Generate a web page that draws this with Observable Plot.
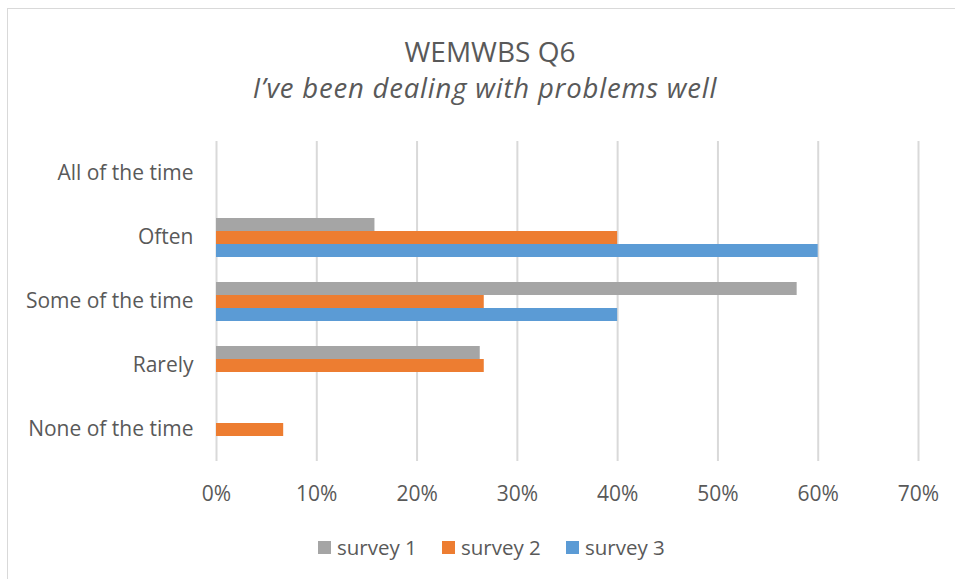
<!DOCTYPE html>
<html>
<head>
<meta charset="utf-8">
<script src="https://cdn.jsdelivr.net/npm/d3@7"></script>
<script src="https://cdn.jsdelivr.net/npm/@observablehq/plot@0.6"></script>
<style>
  html, body { margin: 0; padding: 0; background: #fff; overflow: hidden; }
  body { width: 955px; height: 579px; position: relative; font-family: "Open Sans", sans-serif; color: #595959; }
  #frame { position: absolute; left: 7px; top: 8px; width: 1000px; height: 620px; border-left: 1.5px solid #d9d9d9; border-top: 1.5px solid #d9d9d9; }
  #title { position: absolute; left: 0; width: 980px; top: 35px; text-align: center; font-size: 28px; line-height: 32px; }
  #subtitle { position: absolute; left: 0; width: 970px; top: 72px; text-align: center; font-size: 27.5px; letter-spacing: 0.8px; line-height: 32px; font-style: italic; }
  #chart { position: absolute; left: 0; top: 130px; }
  #legend { position: absolute; left: 318px; top: 535px; display: flex; font-size: 20.5px; line-height: 24px; }
  .item { display: flex; align-items: center; width: 124px; }
  .sw { width: 13px; height: 13px; margin-right: 6px; }
</style>
</head>
<body>
<div id="frame"></div>
<div id="title">WEMWBS Q6</div>
<div id="subtitle">I’ve been dealing with problems well</div>
<div id="chart"></div>
<div id="legend"></div>
<script>
const categories = ["All of the time", "Often", "Some of the time", "Rarely", "None of the time"];
const series = ["survey 1", "survey 2", "survey 3"];
const survey1 = [0, 0.158, 0.579, 0.263, 0];
const survey2 = [0, 0.40, 0.267, 0.267, 0.067];
const survey3 = [0, 0.60, 0.40, 0, 0];
const xTicks = [0, 0.1, 0.2, 0.3, 0.4, 0.5, 0.6, 0.7];
const colors = ["#a5a5a5", "#ed7d31", "#5b9bd5"];

const values = [survey1, survey2, survey3];
const data = [];
categories.forEach((c, i) => {
  series.forEach((s, j) => {
    if (values[j][i] > 0) data.push({category: c, series: s, value: values[j][i]});
  });
});
const grid = [];
categories.forEach(c => xTicks.forEach(t => grid.push({category: c, x: t})));

const chart = Plot.plot({
  width: 955,
  height: 390,
  marginLeft: 216,
  marginRight: 37,
  marginTop: 11,
  marginBottom: 59,
  style: {fontFamily: "Open Sans", fontSize: "21px", color: "#595959", background: "transparent"},
  x: {domain: [0, 0.7], ticks: xTicks, tickFormat: d3.format(".0%")},
  fy: {domain: categories, padding: 0},
  y: {domain: series, paddingInner: 0, paddingOuter: 0.9, axis: null},
  color: {domain: series, range: colors},
  marks: [
    Plot.ruleX(grid, {x: "x", fy: "category", stroke: "#d9d9d9", strokeWidth: 2}),
    Plot.barX(data, {x: "value", y: "series", fy: "category", fill: "series"}),
    Plot.axisX({ticks: xTicks, tickFormat: d3.format(".0%"), tickSize: 0, tickPadding: 25, label: null}),
    Plot.axisFy({anchor: "left", tickSize: 0, tickPadding: 23, label: null})
  ]
});
document.getElementById("chart").appendChild(chart);

const legend = d3.select("#legend");
series.forEach((s, i) => {
  const it = legend.append("div").attr("class", "item");
  it.append("div").attr("class", "sw").style("background", colors[i]);
  it.append("span").text(s);
});
</script>
</body>
</html>
